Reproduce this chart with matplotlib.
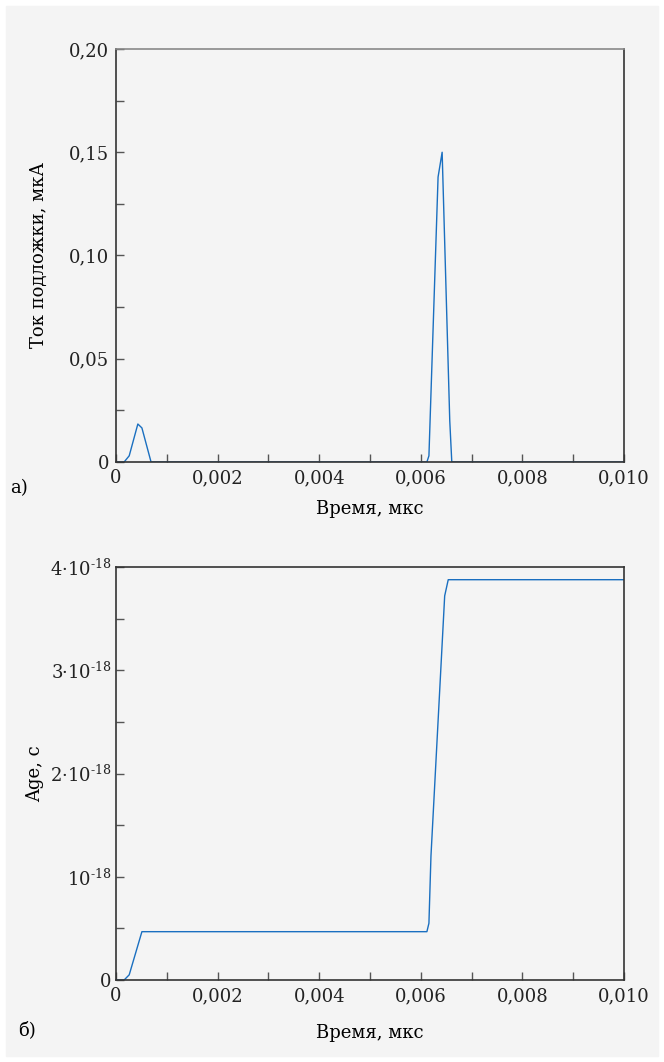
import numpy as np
import matplotlib
matplotlib.use('Agg')
import matplotlib.pyplot as plt
from matplotlib.patches import Rectangle
from matplotlib.ticker import MultipleLocator

# substrate current, uA
t_cur = [0.0, 0.00016, 0.00026, 0.00043, 0.00051, 0.00069, 0.00612, 0.00616,
         0.00634, 0.00642, 0.00657, 0.00661, 0.0100]
i_cur = [0.0, 0.0, 0.003, 0.0184, 0.0165, 0.0, 0.0, 0.003,
         0.138, 0.150, 0.020, 0.0, 0.0]

# age, s
t_age = [0.0, 0.00016, 0.00026, 0.00051, 0.00612, 0.00616, 0.00620,
         0.00647, 0.00654, 0.0100]
age = [0.0, 0.0, 0.05e-18, 0.468e-18, 0.468e-18, 0.55e-18, 1.2e-18,
       3.72e-18, 3.877e-18, 3.877e-18]

xticks = [0, 0.002, 0.004, 0.006, 0.008, 0.010]
xlabels = ['0', '0,002', '0,004', '0,006', '0,008', '0,010']
yticks_a = [0, 0.05, 0.10, 0.15, 0.20]
ylabels_a = ['0', '0,05', '0,10', '0,15', '0,20']
yticks_b = [0, 1e-18, 2e-18, 3e-18, 4e-18]
ylabels_b = ['0', r'10$^{\text{-18}}$', r'2·10$^{\text{-18}}$',
             r'3·10$^{\text{-18}}$', r'4·10$^{\text{-18}}$']

plt.rcParams.update({
    'font.family': 'DejaVu Serif',
    'mathtext.fontset': 'dejavuserif',
    'font.size': 13,
    'xtick.direction': 'in',
    'ytick.direction': 'in',
    'xtick.major.size': 6,
    'ytick.major.size': 6,
    'xtick.color': '#555555',
    'ytick.color': '#555555',
    'xtick.labelcolor': '#222222',
    'ytick.labelcolor': '#222222',
})

bg = '#f4f4f4'
line_c = '#1a6fc0'

fig = plt.figure(figsize=(6.64, 10.62), dpi=100)
fig.patch.set_facecolor('white')
fig.add_artist(Rectangle((6 / 664, 6 / 1062), 652 / 664, 1050 / 1062,
                         transform=fig.transFigure, color=bg, zorder=-10))

ax1 = fig.add_axes([116 / 664, 1 - 462 / 1062, 508 / 664, 413 / 1062])
ax2 = fig.add_axes([116 / 664, 1 - 980 / 1062, 508 / 664, 413 / 1062])

ax1.plot(t_cur, i_cur, color=line_c, lw=1.0)
ax2.plot(t_age, age, color=line_c, lw=1.0)

for ax in (ax1, ax2):
    ax.set_facecolor(bg)
    ax.set_xlim(0, 0.010)
    ax.set_xticks(xticks, xlabels)
    ax.xaxis.set_minor_locator(MultipleLocator(0.001))
    ax.tick_params(which='minor', length=6, width=1, direction='in', color='#555555')
    ax.tick_params(which='major', width=1, pad=5)
    for s in ax.spines.values():
        s.set_color('#333333')
        s.set_linewidth(1.2)
    ax.set_xlabel('Время, мкс')

ax1.yaxis.set_label_coords(-68 / 508, 0.5)
ax2.yaxis.set_label_coords(-72 / 508, 0.5)
ax2.tick_params(axis='y', which='major', pad=3)
ax1.xaxis.set_label_coords(0.5, -38 / 413)
ax2.xaxis.set_label_coords(0.5, -44 / 413)
ax1.spines['top'].set_color('#888888')

ax1.set_ylim(0, 0.20)
ax1.set_yticks(yticks_a, ylabels_a)
ax1.yaxis.set_minor_locator(MultipleLocator(0.025))
ax1.set_ylabel('Ток подложки, мкА')

ax2.set_ylim(0, 4e-18)
ax2.set_yticks(yticks_b, ylabels_b)
ax2.yaxis.set_minor_locator(MultipleLocator(0.5e-18))
ax2.set_ylabel('Age, c')

fig.text(10 / 664, 1 - 488 / 1062, 'а)', ha='left', va='center')
fig.text(18 / 664, 1 - 1030 / 1062, 'б)', ha='left', va='center')

fig.savefig('out.png', dpi=100, facecolor=fig.get_facecolor())
